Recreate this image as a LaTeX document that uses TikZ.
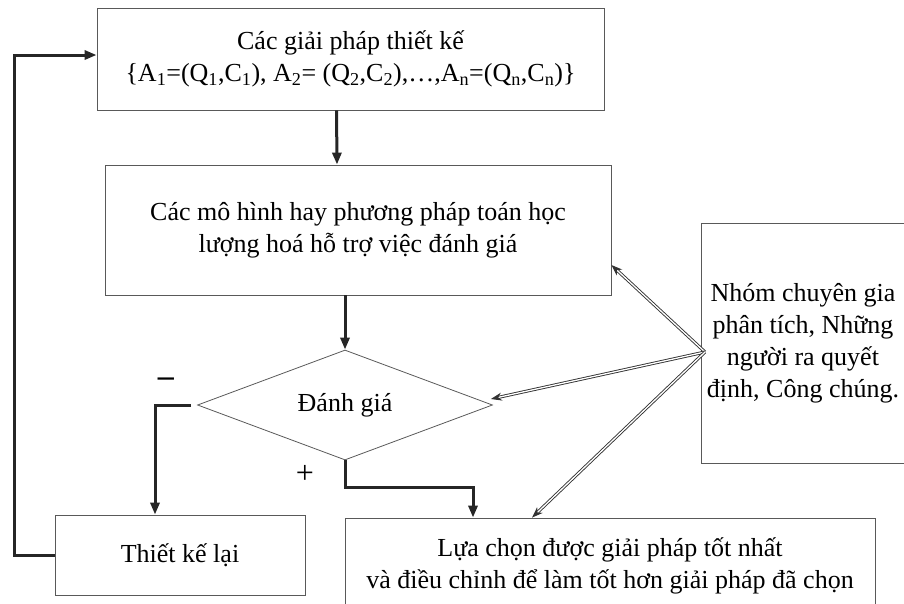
\documentclass[tikz,border=0pt]{standalone}
\usepackage{fontspec}
\setmainfont{Liberation Serif}
\usetikzlibrary{arrows.meta,shapes.geometric}
\begin{document}
\begin{tikzpicture}[x=1pt,y=-1pt,
  box/.style={draw=black!65, line width=0.8pt, align=center, inner sep=0pt,
              font=\fontsize{26}{32}\selectfont},
  thickarrow/.style={draw=black!85, line width=3pt,
              -{Triangle[length=12pt,width=9pt]}},
  dblarrow/.style={draw=black!80, line width=0.9pt, double=white, double distance=1.3pt,
              -{Stealth[length=11pt,width=8pt]}},
  sign/.style={font=\fontsize{32}{32}\selectfont, inner sep=0pt}
]
\useasboundingbox (0,0) rectangle (904,603);
\clip (0,0) rectangle (904,603);

\node[box, minimum width=507pt, minimum height=102pt] (top) at (350.5,59)
  {Các giải pháp thiết kế\\
   \{A\textsubscript{1}=(Q\textsubscript{1},C\textsubscript{1}), A\textsubscript{2}= (Q\textsubscript{2},C\textsubscript{2}),…,A\textsubscript{n}=(Q\textsubscript{n},C\textsubscript{n})\}};
\node[box, minimum width=506pt, minimum height=130pt] (mod) at (358,230)
  {Các mô hình hay phương pháp toán học\\ lượng hoá hỗ trợ việc đánh giá};
\node[box, diamond, shape aspect=2.7, minimum width=295pt, minimum height=110pt] (dia) at (345,405)
  {Đánh giá};
\node[box, minimum width=204pt, minimum height=240pt] (grp) at (803,343)
  {Nhóm chuyên gia\\ phân tích, Những\\ người ra quyết\\ định, Công chúng.};
\node[box, minimum width=250pt, minimum height=80pt] (redo) at (180,555)
  {Thiết kế lại};
\node[box, minimum width=530pt, minimum height=96pt] (sel) at (610,566)
  {Lựa chọn được giải pháp tốt nhất\\ và điều chỉnh để làm tốt hơn giải pháp đã chọn};

\node[sign] (minus) at (166,382) {\textbf{–}};
\node[sign] (plus) at (305,474) {+};

% main flow
\draw[thickarrow] ([xshift=-14pt]top.south) -- ([xshift=-21pt]mod.north);
\draw[thickarrow] (mod.south -| dia.north) -- (dia.north);
\draw[thickarrow] ([xshift=-6pt]dia.west) -| ([xshift=-25pt]redo.north);
\draw[thickarrow] (dia.south) -- ++(0,27) -| ([xshift=-137pt]sel.north);
\draw[thickarrow] (redo.west) -- ++(-40,0) |- ([yshift=4pt]top.west);

% influence arrows
\coordinate (src) at (705,352);
\draw[dblarrow] (src) -- ([yshift=-35pt]mod.east);
\draw[dblarrow] (src) -- ([xshift=-2pt,yshift=6pt]dia.east);
\draw[dblarrow] (src) -- ([xshift=-78pt]sel.north);
\end{tikzpicture}
\end{document}
